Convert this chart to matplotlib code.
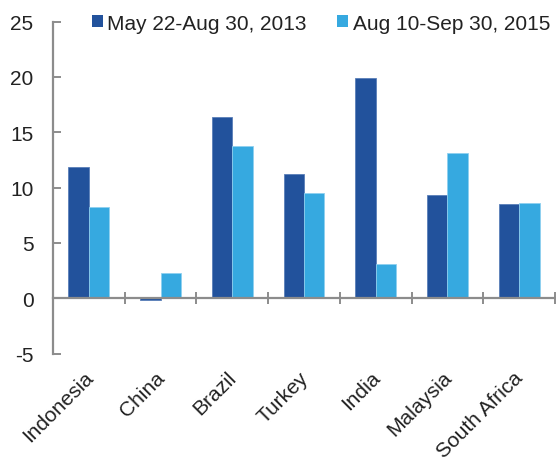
import matplotlib
matplotlib.use("Agg")
import matplotlib.pyplot as plt
import matplotlib.transforms as mtransforms
from matplotlib.patches import Patch
import numpy as np

plt.rcParams["font.family"] = ["Liberation Sans", "DejaVu Sans"]

countries = ["Indonesia", "China", "Brazil", "Turkey", "India", "Malaysia", "South Africa"]
series_names = ["May 22-Aug 30, 2013", "Aug 10-Sep 30, 2015"]
values_2013 = [11.85, -0.2, 16.35, 11.2, 19.9, 9.3, 8.5]
values_2015 = [8.25, 2.3, 13.75, 9.5, 3.1, 13.15, 8.6]
yticks = [-5, 0, 5, 10, 15, 20, 25]

dark = "#22529c"
light = "#36a9e0"
axis_gray = "#8c8c8c"
text_color = "#222222"
fs = 15.0

fig = plt.figure(figsize=(5.56, 4.60), dpi=100)
ax = fig.add_axes([53 / 556, 1 - 354.6 / 460, 502 / 556, (354.6 - 22.6) / 460])

x = np.arange(len(countries)) + 0.5
w = 0.285
ax.bar(x - w / 2, values_2013, width=w, color=dark, edgecolor="#5a7fb8", linewidth=0.6)
ax.bar(x + w / 2, values_2015, width=w, color=light, edgecolor="#8fd0ef", linewidth=0.6)

ax.set_xlim(0, len(countries))
ax.set_ylim(-5, 25)

for s in ["top", "right"]:
    ax.spines[s].set_visible(False)
ax.spines["bottom"].set_position(("data", 0))
for s in ["left", "bottom"]:
    ax.spines[s].set_color(axis_gray)
    ax.spines[s].set_linewidth(1.6)

ax.set_yticks(yticks)
ax.set_yticklabels([str(v) for v in yticks])
ax.tick_params(axis="y", direction="in", length=6, width=1.4, color=axis_gray,
               labelsize=fs, labelcolor=text_color, pad=14)

ax.set_xticks(np.arange(len(countries) + 1))
ax.set_xticklabels([])
ax.tick_params(axis="x", direction="inout", length=9, width=1.4, color=axis_gray)

trans = mtransforms.blended_transform_factory(ax.transData, ax.transAxes)
offset = mtransforms.ScaledTranslation(-4 / 72, -10 / 72, fig.dpi_scale_trans)
for xi, name in zip(x, countries):
    ax.text(xi, 0, name, transform=trans + offset, rotation=45, ha="right", va="top",
            rotation_mode="anchor", fontsize=fs, color=text_color)

handles = [Patch(facecolor=dark, edgecolor="none"), Patch(facecolor=light, edgecolor="none")]
fig.legend(handles, series_names, loc="center left", bbox_to_anchor=(92 / 556, 1 - 24 / 460),
           ncol=2, frameon=False, fontsize=fs, handlelength=0.52, handleheight=0.52,
           handletextpad=0.22, columnspacing=1.45, borderpad=0, borderaxespad=0,
           labelcolor=text_color)

fig.savefig("out.png", dpi=100)
